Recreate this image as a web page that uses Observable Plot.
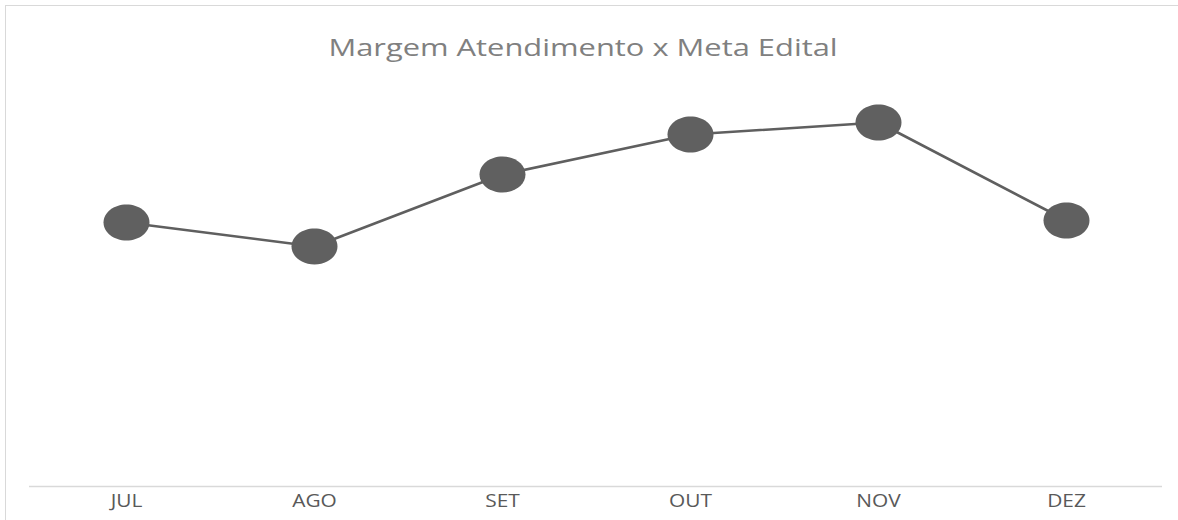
<!DOCTYPE html>
<html>
<head>
<meta charset="utf-8">
<script src="https://cdn.jsdelivr.net/npm/d3@7"></script>
<script src="https://cdn.jsdelivr.net/npm/@observablehq/plot@0.6"></script>
<style>
  html, body { margin: 0; padding: 0; background: #fff; overflow: hidden; }
  #wrap { position: relative; width: 1178px; height: 520px; overflow: hidden; }
  #border { position: absolute; left: 5px; top: 5px; width: 1200px; height: 600px; border: 1px solid #d9d9d9; box-sizing: border-box; }
  #chart { position: absolute; left: 0; top: 0; }
</style>
</head>
<body>
<div id="wrap"><div id="border"></div><div id="chart"></div></div>
<script>
const title = "Margem Atendimento x Meta Edital";
const months = ["JUL", "AGO", "SET", "OUT", "NOV", "DEZ"];
const values = [0.66, 0.60, 0.78, 0.88, 0.91, 0.665];

const data = months.map((m, i) => ({month: m, value: values[i]}));

const ellipse = {
  draw(context, size) {
    const rx = 23, ry = 18, k = 0.5523;
    context.moveTo(rx, 0);
    context.bezierCurveTo(rx, ry * k, rx * k, ry, 0, ry);
    context.bezierCurveTo(-rx * k, ry, -rx, ry * k, -rx, 0);
    context.bezierCurveTo(-rx, -ry * k, -rx * k, -ry, 0, -ry);
    context.bezierCurveTo(rx * k, -ry, rx, -ry * k, rx, 0);
    context.closePath();
  }
};

const chart = Plot.plot({
  width: 1178,
  height: 520,
  marginLeft: 29,
  marginRight: 16,
  marginTop: 86,
  marginBottom: 34,
  style: {fontFamily: "'Open Sans', sans-serif", background: "transparent", overflow: "visible"},
  x: {type: "point", domain: months, padding: 0.5, label: null},
  y: {domain: [0, 1], axis: null},
  marks: [
    Plot.ruleY([0], {stroke: "#d9d9d9", strokeWidth: 1.3}),
    Plot.axisX({tickSize: 0, tickPadding: 8, fontSize: 18, color: "#595959", label: null}),
    Plot.line(data, {x: "month", y: "value", stroke: "#5f5f5f", strokeWidth: 2.6}),
    Plot.dot(data, {x: "month", y: "value", symbol: ellipse, fill: "#606060", stroke: "none"}),
    Plot.text([title], {frameAnchor: "top", lineAnchor: "middle", dy: -38, dx: -13, fontSize: 24.5, fill: "#808080", fontFamily: "'Open Sans', sans-serif"})
  ]
});

// horizontal stretch of the text, as in the reference
chart.querySelectorAll("text").forEach(t => {
  const tr = t.getAttribute("transform") || "";
  if (t.textContent === title) {
    t.setAttribute("transform", tr + " scale(1.26,1)");
  } else if (months.includes(t.textContent)) {
    t.setAttribute("transform", tr + " scale(1.16,1)");
  }
});
document.getElementById("chart").appendChild(chart);
</script>
</body>
</html>
